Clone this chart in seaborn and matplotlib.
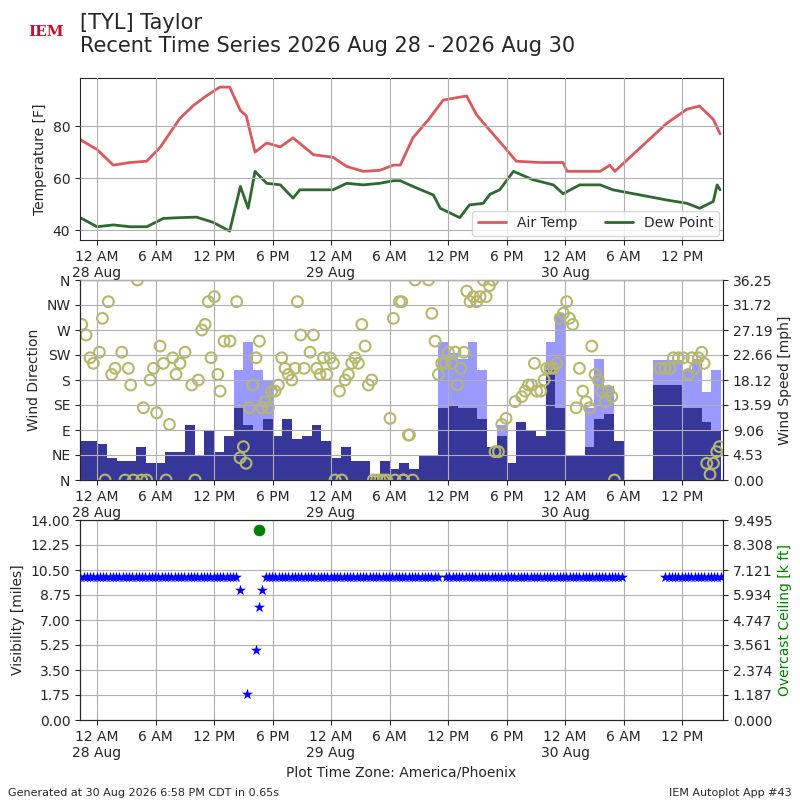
import numpy as np
import pandas as pd
import matplotlib
matplotlib.use("Agg")
import matplotlib.pyplot as plt
import seaborn as sns

# hours since 2026-08-28 00:00 (America/Phoenix)
temp_hours = [-1.74, 0, 1.66, 3.4, 5.1, 6.5, 8.5, 9.9, 11.2, 12.6, 13.6, 14.7, 15.3, 16.2, 17.4,
              18.8, 20.1, 22.2, 24.2, 25.6, 27.3, 29.0, 30.4, 31.1, 32.4, 34.1, 35.5, 37.9, 38.9,
              39.9, 41.3, 43.0, 45.4, 47.8, 48.2, 51.6, 52.6, 53.1, 58.4, 60.5, 61.8, 63.2, 63.9]
air_temp = [74.8, 71, 65, 66, 66.5, 72, 83, 88, 91.6, 95, 95, 86, 84, 70, 73.5,
            72, 75.5, 69, 68, 64.5, 62.6, 63, 65, 65, 75.5, 83, 90, 91.6, 84.5,
            80, 74, 66.5, 66, 66, 62.6, 62.6, 65, 62.6, 81, 86.5, 87.7, 82.6, 77]

dew_hours = [-1.74, 0, 1.66, 3.4, 5.1, 6.8, 8.5, 10.2, 11.9, 13.6, 14.7, 15.5, 16.2, 17.4, 18.8,
             20.1, 20.8, 22.2, 24.2, 25.6, 27.3, 29.0, 30.4, 31.1, 32.4, 34.5, 35.2, 37.2, 38.2,
             39.6, 40.3, 41.3, 42.7, 44.7, 46.8, 47.8, 49.5, 51.6, 52.9, 58.4, 60.5, 61.8, 63.2,
             63.6, 63.9]
dew_point = [44.8, 41.3, 42, 41.3, 41.3, 44.5, 44.8, 45, 43, 39.6, 56.8, 48.4, 62.6, 58, 57.4,
             52.3, 55.5, 55.5, 55.5, 58, 57.4, 58, 59, 59, 56.8, 53.5, 48.4, 44.8, 49.7,
             50.3, 53.8, 55.5, 62.6, 59.4, 57.4, 54, 57.4, 57.4, 55.5, 51.6, 50.3, 48.4, 51,
             57.4, 55.5]

wind_hours = list(range(-2, 64))
wind_speed = [7, 7, 6.5, 4, 3.5, 3.5, 6, 3, 3, 5, 5, 10, 4.5, 9, 5, 8, 13, 10, 9, 11, 8, 11,
              7.5, 8, 10, 7, 4, 6, 3.5, 3.5, 0.5, 3.5, 2, 3, 2, 4.5, 4.5, 13, 13.5, 13, 13, 11,
              6, 8, 3, 10.5, 9, 8, 20, 13, 4.5, 4.5, 6, 11, 12, 7, np.nan, np.nan, np.nan,
              17.2, 17.2, 17.2, 13, 13, 10.5, 9]
wind_gust = [np.nan] * 16 + [20, 25, 20, 18] + [np.nan] * 17 + [25, 23, 22, 25, 20, np.nan, 10] \
    + [np.nan] * 4 + [25, 30, np.nan, np.nan, 13, 22, 17, np.nan, np.nan, np.nan, np.nan,
                      21.7, 21.7, 21.7, 20, 22, 16, 20]

dir_hours = [-1.57, -1.13, -0.72, -0.38, 0.24, 0.55, 1.16, 1.5, 1.85, 2.53, 3.21, 3.45, 4.14,
             4.75, 5.44, 5.78, 6.12, 6.46, 6.80, 7.42, 7.76, 8.10, 8.51, 9.02, 9.71, 10.39,
             10.74, 11.08, 11.42, 11.69, 12.03, 12.38, 12.62, 13.03, 13.64, 14.32, 14.67, 15.01,
             15.28, 15.62, 15.97, 16.31, 16.65, 16.89, 17.23, 17.57, 17.91, 18.26, 18.60, 18.94,
             19.28, 19.62, 19.97, 20.31, 20.55, 20.89, 21.24, 21.85, 22.19, 22.53, 22.87, 23.22,
             23.56, 23.90, 24.24, 24.86, 25.44, 25.78, 26.12, 26.46, 26.80, 27.15, 27.49, 27.83,
             28.17, 30.05, 30.39, 31.01, 31.93,
             0.82, 2.87, 3.73, 4.58, 5.09, 7.08, 10.05, 24.41, 25.10, 28.34, 28.68, 29.02, 29.36,
             29.71, 30.56, 31.42,
             31.25, 31.42, 32.04, 32.38, 32.62, 33.99, 34.33, 34.67, 35.01, 35.35, 35.70, 36.04,
             36.38, 36.72, 36.96, 37.30, 37.64, 37.92, 38.26, 38.60, 38.94, 39.29, 39.63, 39.90,
             40.24, 40.58, 40.82, 41.17, 41.51, 41.95, 42.87, 43.56, 43.90, 44.24, 44.58, 44.86,
             45.10, 45.51, 45.85, 46.12, 46.46, 46.81, 47.15, 47.49, 47.83, 48.17, 48.45, 48.79,
             49.13, 49.47, 49.82, 50.16, 50.50, 50.74, 51.08, 51.42, 51.76, 52.11, 52.45, 52.79,
             53.06, 57.75, 58.26, 58.77, 59.11, 59.63, 60.14, 60.65, 61.00, 61.34, 61.68, 62.02,
             62.26, 62.53, 62.87, 63.22, 63.56, 63.83]
wind_dir = [280, 261, 220, 210, 230, 291, 321, 190, 201, 230, 201, 171, 360, 130, 180, 201,
            121, 241, 210, 100, 220, 190, 210, 230, 171, 180, 270, 280, 321, 220, 330, 190,
            160, 250, 250, 321, 40, 60, 30, 130, 171, 220, 250, 130, 141, 130, 160, 160, 171,
            220, 201, 190, 180, 201, 321, 261, 201, 230, 261, 201, 190, 220, 190, 220, 210,
            160, 180, 190, 210, 220, 210, 280, 241, 171, 180, 111, 291, 321, 81,
            0, 0, 0, 0, 0, 0, 0, 0, 0, 0, 0, 0, 0, 0, 0, 0,
            321, 0, 81, 0, 360, 360, 300, 250, 190, 210, 210, 230, 210, 230, 171, 201, 230,
            340, 321, 330, 321, 330, 360, 330, 350, 360, 51, 51, 100, 111, 141, 150, 160, 171,
            171, 210, 160, 160, 180, 201, 201, 201, 210, 291, 300, 321, 291, 280, 130, 201,
            160, 141, 130, 241, 190, 180, 160, 141, 160, 150, 0, 201, 201, 201, 220, 220, 220,
            190, 220, 201, 220, 230, 210, 30, 10, 30, 51, 60]

# periods reporting 10 mile visibility (start, end hours), 20 minute obs
vis_periods = [(-1.7, 14.4), (17.3, 35.0), (35.8, 54.0), (58.3, 64.2)]
low_vis_hours = [14.67, 15.38, 16.3, 16.6, 16.9]
low_vis = [9.1, 1.8, 4.9, 7.9, 9.1]
ceil_hours = [16.6]
ceiling_kft = [9.02]

tick_hours = list(range(0, 61, 6))
tick_labels = ["12 AM\n28 Aug", "6 AM", "12 PM", "6 PM", "12 AM\n29 Aug", "6 AM", "12 PM",
               "6 PM", "12 AM\n30 Aug", "6 AM", "12 PM"]

sns.set_style("ticks")
plt.rcParams["font.family"] = ["DejaVu Sans"]
grid_kw = dict(color="#b0b0b0", linewidth=0.8)
xlim = (-1.75, 64.2)

fig = plt.figure(figsize=(8, 8), dpi=100)
ax1 = fig.add_axes([0.1, 0.7, 0.80375, 0.2025])
ax2 = fig.add_axes([0.1, 0.4, 0.80375, 0.25])
ax3 = fig.add_axes([0.1, 0.1, 0.80375, 0.25])

# temperature
tdf = pd.DataFrame({"h": temp_hours, "v": air_temp})
ddf = pd.DataFrame({"h": dew_hours, "v": dew_point})
sns.lineplot(data=tdf, x="h", y="v", ax=ax1, color="#d9595f", lw=2, label="Air Temp")
sns.lineplot(data=ddf, x="h", y="v", ax=ax1, color="#2e6930", lw=2, label="Dew Point")
ax1.set_ylim(36.2, 98.5)
ax1.set_yticks([40, 60, 80])
ax1.set_ylabel("Temperature [F]")
ax1.set_xlabel("")
ax1.legend(loc="lower right", ncol=2, fontsize=10, borderaxespad=0.3)

# wind
ax2b = ax2.twinx()
ax2b.bar(wind_hours, wind_gust, width=1.0, align="edge", color="#9999ff", lw=0)
ax2b.bar(wind_hours, wind_speed, width=1.0, align="edge", color="#373699", lw=0)
ax2b.set_ylim(0, 36.25)
sp_ticks = [36.25 * i / 8 for i in range(9)]
ax2b.set_yticks(sp_ticks)
ax2b.set_yticklabels([f"{v:.2f}" for v in sp_ticks])
ax2b.set_ylabel("Wind Speed [mph]")
ax2.set_zorder(ax2b.get_zorder() + 1)
ax2.patch.set_visible(False)
wdf = pd.DataFrame({"h": dir_hours, "d": wind_dir})
sns.scatterplot(data=wdf, x="h", y="d", ax=ax2, s=60, facecolor="none",
                edgecolor="#b5b86a", linewidth=1.5, clip_on=True)
ax2.set_ylim(0, 360)
ax2.set_yticks(range(0, 361, 45))
ax2.set_yticklabels(["N", "NE", "E", "SE", "S", "SW", "W", "NW", "N"])
ax2.set_ylabel("Wind Direction")
ax2.set_xlabel("")

# visibility
vis_h = np.concatenate([np.arange(a, b, 1 / 3) for a, b in vis_periods])
vdf = pd.DataFrame({"h": np.concatenate([vis_h, low_vis_hours]),
                    "v": np.concatenate([np.full(len(vis_h), 10.0), low_vis])})
sns.scatterplot(data=vdf, x="h", y="v", ax=ax3, marker="*", s=70, color="blue",
                edgecolor="blue", linewidth=0, zorder=3)
ax3.set_ylim(0, 14)
ax3.set_yticks([1.75 * i for i in range(9)])
ax3.set_yticklabels([f"{1.75 * i:.2f}" for i in range(9)])
ax3.set_ylabel("Visibility [miles]")
ax3.set_xlabel("Plot Time Zone: America/Phoenix")
ax3b = ax3.twinx()
sns.scatterplot(x=ceil_hours, y=ceiling_kft, ax=ax3b, s=70, color="green", linewidth=0)
ax3b.set_ylim(0, 9.495)
c_ticks = [9.495 * i / 8 for i in range(9)]
ax3b.set_yticks(c_ticks)
ax3b.set_yticklabels([f"{v:.3f}" for v in c_ticks])
ax3b.set_ylabel("Overcast Ceiling [k ft]", color="green")

for ax in (ax1, ax2, ax3):
    ax.set_xlim(*xlim)
    ax.set_xticks(tick_hours)
    ax.set_xticklabels(tick_labels)
    ax.grid(True, **grid_kw)
    ax.set_axisbelow(False)
for ax in (ax2b, ax3b):
    ax.set_xlim(*xlim)
ax3.set_axisbelow(True)

fig.text(0.1, 0.93, "[TYL] Taylor\nRecent Time Series 2026 Aug 28 - 2026 Aug 30",
         fontsize=15, va="bottom", ha="left")
fig.text(0.035, 0.955, "IEM", color="#c8102e", fontsize=11, fontweight="bold",
         fontfamily="DejaVu Serif")
fig.text(0.01, 0.005, "Generated at 30 Aug 2026 6:58 PM CDT in 0.65s", fontsize=8)
fig.text(0.99, 0.005, "IEM Autoplot App #43", fontsize=8, ha="right")

fig.savefig("out.png", dpi=100)
